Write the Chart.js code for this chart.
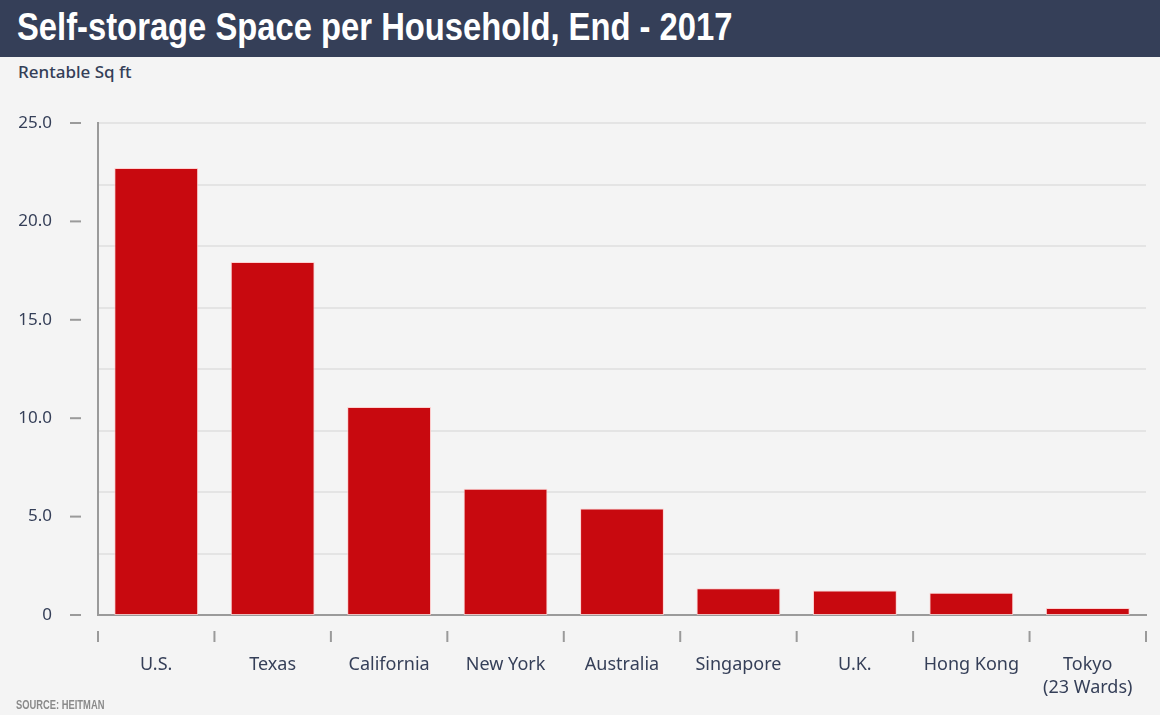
<!DOCTYPE html>
<html>
<head>
<meta charset="utf-8">
<script src="https://cdn.jsdelivr.net/npm/chart.js@4"></script>
<style>
  body { margin: 0; background: #f4f4f4; width: 1160px; height: 715px; overflow: hidden; position: relative; font-family: "Noto Sans", sans-serif; }
  #head { position: absolute; left: 0; top: 0; width: 1160px; height: 57px; background: #353f58; }
  #head h1 { margin: 0; position: absolute; left: 17px; top: 5px; color: #fff; font-family: "Liberation Sans", sans-serif; font-weight: bold; font-size: 39px; white-space: nowrap; transform: scaleX(0.84); transform-origin: left top; }
  #sub { position: absolute; left: 18px; top: 60px; color: #353f58; font-size: 17px; font-weight: 500; }
  #src { position: absolute; left: 16px; top: 698px; color: #8a8a8a; font-family: "Liberation Sans", sans-serif; font-weight: bold; font-size: 12px; white-space: nowrap; transform: scaleX(0.78); transform-origin: left top; }
  #wrap { position: absolute; left: 0; top: 57px; width: 1160px; height: 658px; }
</style>
</head>
<body>
<div id="head"><h1>Self-storage Space per Household, End - 2017</h1></div>
<div id="sub">Rentable Sq ft</div>
<div id="wrap"><canvas id="myChart"></canvas></div>
<div id="src">SOURCE: HEITMAN</div>
<script>
var labels = ['U.S.', 'Texas', 'California', 'New York', 'Australia', 'Singapore', 'U.K.', 'Hong Kong', ['Tokyo', '(23 Wards)']];
var values = [22.71, 17.94, 10.57, 6.41, 5.41, 1.36, 1.24, 1.13, 0.35];
var yTicks = [0, 5, 10, 15, 20, 25];

var navy = '#353f58';

// little tick marks set apart from the axes
var tickMarks = {
    id: 'tickMarks',
    afterDraw: function(chart) {
        var c = chart.ctx;
        var x = chart.scales.x, y = chart.scales.y;
        c.save();
        c.strokeStyle = '#9a9a9a';
        c.lineWidth = 2;
        yTicks.forEach(function(v) {
            var py = y.getPixelForValue(v);
            c.beginPath();
            c.moveTo(70, py);
            c.lineTo(81, py);
            c.stroke();
        });
        var half = (x.getPixelForValue(1) - x.getPixelForValue(0)) / 2;
        for (var i = 0; i <= labels.length; i++) {
            var px = i < labels.length ? x.getPixelForValue(i) - half : x.getPixelForValue(i - 1) + half;
            c.beginPath();
            c.moveTo(px, x.top + 16);
            c.lineTo(px, x.top + 27);
            c.stroke();
        }
        c.restore();
    }
};

var ctx = document.getElementById('myChart').getContext('2d');
var myChart = new Chart(ctx, {
    type: 'bar',
    data: {
        labels: labels,
        datasets: [{
            data: values,
            backgroundColor: '#c8090f',
            borderColor: 'rgba(255,200,200,0.8)',
            borderWidth: 1,
            borderSkipped: false,
            categoryPercentage: 1,
            barPercentage: 0.72
        }]
    },
    options: {
        responsive: true,
        maintainAspectRatio: false,
        animation: false,
        layout: { padding: { left: 0, right: 14, top: 66, bottom: 0 } },
        plugins: { legend: { display: false }, tooltip: { enabled: false } },
        scales: {
            x: {
                offset: true,
                grid: { display: false, drawTicks: false },
                border: { display: true, color: '#9a9a9a', width: 2 },
                ticks: { color: navy, font: { family: 'Noto Sans', size: 18, lineHeight: 1.3 }, padding: 38, maxRotation: 0, autoSkip: false },
                afterFit: function(s) { s.height = 100; s.paddingLeft = 0; s.paddingRight = 0; }
            },
            y: {
                min: 0, max: 25,
                grid: { display: false, drawTicks: false },
                border: { display: true, color: '#9a9a9a', width: 2 },
                ticks: {
                    stepSize: 5, padding: 46, color: navy, font: { family: 'Noto Sans', size: 17 },
                    callback: function(v) { return v === 0 ? '0' : v.toFixed(1); }
                },
                afterFit: function(s) { s.width = 98; }
            },
            y2: {
                position: 'right',
                min: 0, max: 25,
                grid: { color: '#e4e4e4', lineWidth: 2, drawTicks: false },
                border: { display: false },
                ticks: { display: false, stepSize: 3.125 },
                afterFit: function(s) { s.width = 0; }
            }
        }
    },
    plugins: [tickMarks]
});
</script>
</body>
</html>
